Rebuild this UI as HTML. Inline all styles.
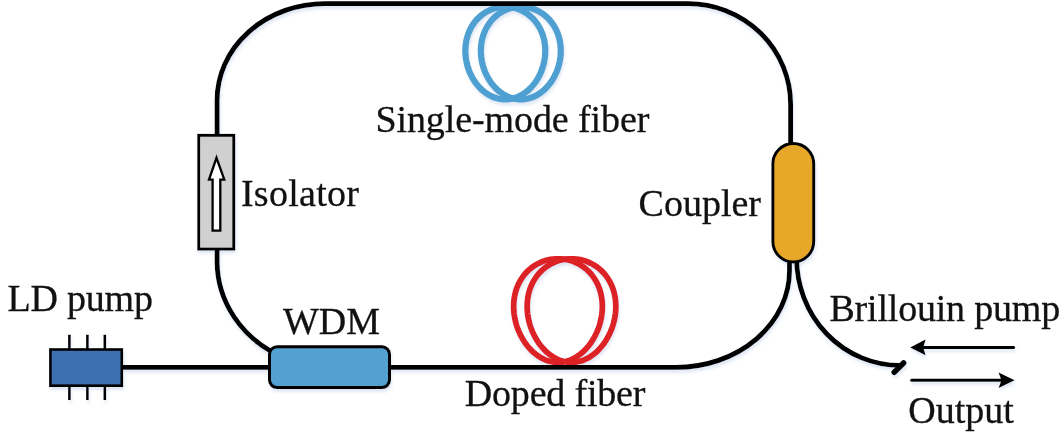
<!DOCTYPE html>
<html>
<head>
<meta charset="utf-8">
<style>
html,body{margin:0;padding:0;background:#fff;width:1061px;height:435px;overflow:hidden;}
svg{position:absolute;left:0;top:0;display:block;}
text{font-family:"Liberation Serif",serif;font-size:38px;fill:#111;stroke:#111;stroke-width:0.3px;}
</style>
</head>
<body>
<svg width="1061" height="435" viewBox="0 0 1061 435">
  <defs>
    <filter id="sh" x="-5%" y="-5%" width="110%" height="115%">
      <feGaussianBlur in="SourceAlpha" stdDeviation="1.6"/>
      <feOffset dx="0.8" dy="2.6" result="o"/>
      <feFlood flood-color="#9ab2da" flood-opacity="0.3"/>
      <feComposite in2="o" operator="in"/>
      <feMerge><feMergeNode/><feMergeNode in="SourceGraphic"/></feMerge>
    </filter>
  </defs>
  <g filter="url(#sh)">
  <!-- single-mode fiber coil -->
  <g fill="none" stroke="#50a0d2" stroke-width="6.2">
    <path d="M545.20,53.10 L545.08,55.12 L544.87,57.14 L544.60,59.14 L544.25,61.14 L543.83,63.12 L543.34,65.08 L542.78,67.02 L542.15,68.94 L541.46,70.82 L540.70,72.67 L539.87,74.48 L538.99,76.25 L538.05,77.98 L537.05,79.66 L535.99,81.29 L534.88,82.86 L533.72,84.38 L532.52,85.84 L531.26,87.24 L529.96,88.57 L528.63,89.83 L527.25,91.03 L525.83,92.15 L524.39,93.20 L522.91,94.17 L521.40,95.06 L519.86,95.88 L518.31,96.61 L516.73,97.26 L515.13,97.82 L513.51,98.30 L511.89,98.70 L510.25,99.00 L508.60,99.22 L506.95,99.36 L505.30,99.40 L503.65,99.36 L502.00,99.22 L500.35,99.00 L498.71,98.70 L497.09,98.30 L495.47,97.82 L493.87,97.26 L492.29,96.61 L490.74,95.88 L489.20,95.06 L487.69,94.17 L486.21,93.20 L484.77,92.15 L483.35,91.03 L481.97,89.83 L480.64,88.57 L479.34,87.24 L478.08,85.84 L476.88,84.38 L475.72,82.86 L474.61,81.29 L473.55,79.66 L472.55,77.98 L471.61,76.25 L470.73,74.48 L469.90,72.67 L469.14,70.82 L468.45,68.94 L467.82,67.02 L467.26,65.08 L466.77,63.12 L466.35,61.14 L466.00,59.14 L465.73,57.14 L465.52,55.12 L465.40,53.10 L465.35,51.08 L465.38,49.06 L465.48,47.06 L465.67,45.06 L465.92,43.08 L466.26,41.12 L466.67,39.18 L467.17,37.26 L467.73,35.38 L468.37,33.53 L469.09,31.72 L469.88,29.95 L470.74,28.22 L471.68,26.54 L472.68,24.91 L473.75,23.34 L474.89,21.82 L476.09,20.36 L477.35,18.96 L478.67,17.63 L480.05,16.37 L481.48,15.17 L482.96,14.05 L484.49,13.00 L486.06,12.03 L487.67,11.14 L489.33,10.32 L491.01,9.59 L492.73,8.94 L494.47,8.38 L496.24,7.90 L498.03,7.50 L499.83,7.20 L501.65,6.98 L503.47,6.84 L505.30,6.80 L507.13,6.84 L508.95,6.98 L510.77,7.20 L512.57,7.50 L514.36,7.90 L516.13,8.38 L517.87,8.94 L519.59,9.59 L521.27,10.32 L522.93,11.14 L524.54,12.03 L526.11,13.00 L527.64,14.05 L529.12,15.17 L530.55,16.37 L531.93,17.63 L533.25,18.96 L534.51,20.36 L535.71,21.82 L536.85,23.34 L537.92,24.91 L538.92,26.54 L539.86,28.22 L540.72,29.95 L541.51,31.72 L542.23,33.53 L542.87,35.38 L543.43,37.26 L543.93,39.18 L544.34,41.12 L544.68,43.08 L544.93,45.06 L545.12,47.06 L545.22,49.06 L545.25,51.08 Z"/>
    <path d="M560.70,53.10 L560.58,55.12 L560.37,57.14 L560.10,59.14 L559.75,61.14 L559.33,63.12 L558.84,65.08 L558.28,67.02 L557.65,68.94 L556.96,70.82 L556.20,72.67 L555.37,74.48 L554.49,76.25 L553.55,77.98 L552.55,79.66 L551.49,81.29 L550.38,82.86 L549.22,84.38 L548.02,85.84 L546.76,87.24 L545.46,88.57 L544.13,89.83 L542.75,91.03 L541.33,92.15 L539.89,93.20 L538.41,94.17 L536.90,95.06 L535.36,95.88 L533.81,96.61 L532.23,97.26 L530.63,97.82 L529.01,98.30 L527.39,98.70 L525.75,99.00 L524.10,99.22 L522.45,99.36 L520.80,99.40 L519.15,99.36 L517.50,99.22 L515.85,99.00 L514.21,98.70 L512.59,98.30 L510.97,97.82 L509.37,97.26 L507.79,96.61 L506.24,95.88 L504.70,95.06 L503.19,94.17 L501.71,93.20 L500.27,92.15 L498.85,91.03 L497.47,89.83 L496.14,88.57 L494.84,87.24 L493.58,85.84 L492.38,84.38 L491.22,82.86 L490.11,81.29 L489.05,79.66 L488.05,77.98 L487.11,76.25 L486.23,74.48 L485.40,72.67 L484.64,70.82 L483.95,68.94 L483.32,67.02 L482.76,65.08 L482.27,63.12 L481.85,61.14 L481.50,59.14 L481.23,57.14 L481.02,55.12 L480.90,53.10 L480.85,51.08 L480.88,49.06 L480.98,47.06 L481.17,45.06 L481.42,43.08 L481.76,41.12 L482.17,39.18 L482.67,37.26 L483.23,35.38 L483.87,33.53 L484.59,31.72 L485.38,29.95 L486.24,28.22 L487.18,26.54 L488.18,24.91 L489.25,23.34 L490.39,21.82 L491.59,20.36 L492.85,18.96 L494.17,17.63 L495.55,16.37 L496.98,15.17 L498.46,14.05 L499.99,13.00 L501.56,12.03 L503.17,11.14 L504.83,10.32 L506.51,9.59 L508.23,8.94 L509.97,8.38 L511.74,7.90 L513.53,7.50 L515.33,7.20 L517.15,6.98 L518.97,6.84 L520.80,6.80 L522.63,6.84 L524.45,6.98 L526.27,7.20 L528.07,7.50 L529.86,7.90 L531.63,8.38 L533.37,8.94 L535.09,9.59 L536.77,10.32 L538.43,11.14 L540.04,12.03 L541.61,13.00 L543.14,14.05 L544.62,15.17 L546.05,16.37 L547.43,17.63 L548.75,18.96 L550.01,20.36 L551.21,21.82 L552.35,23.34 L553.42,24.91 L554.42,26.54 L555.36,28.22 L556.22,29.95 L557.01,31.72 L557.73,33.53 L558.37,35.38 L558.93,37.26 L559.43,39.18 L559.84,41.12 L560.18,43.08 L560.43,45.06 L560.62,47.06 L560.72,49.06 L560.75,51.08 Z"/>
  </g>
  <!-- doped fiber coil -->
  <g fill="none" stroke="#dd2128" stroke-width="5.8">
    <path d="M602.20,310.60 L601.95,313.31 L601.59,316.01 L601.11,318.70 L600.52,321.37 L599.81,324.01 L599.00,326.61 L598.08,329.16 L597.06,331.67 L595.95,334.12 L594.75,336.50 L593.45,338.81 L592.08,341.05 L590.62,343.20 L589.09,345.26 L587.49,347.23 L585.82,349.09 L584.09,350.86 L582.30,352.51 L580.46,354.04 L578.57,355.46 L576.64,356.75 L574.66,357.92 L572.66,358.96 L570.62,359.86 L568.56,360.63 L566.47,361.27 L564.37,361.76 L562.25,362.12 L560.13,362.33 L558.00,362.40 L555.87,362.33 L553.75,362.12 L551.63,361.76 L549.53,361.27 L547.44,360.63 L545.38,359.86 L543.34,358.96 L541.34,357.92 L539.36,356.75 L537.43,355.46 L535.54,354.04 L533.70,352.51 L531.91,350.86 L530.18,349.09 L528.51,347.23 L526.91,345.26 L525.38,343.20 L523.92,341.05 L522.55,338.81 L521.25,336.50 L520.05,334.12 L518.94,331.67 L517.92,329.16 L517.00,326.61 L516.19,324.01 L515.48,321.37 L514.89,318.70 L514.41,316.01 L514.05,313.31 L513.80,310.60 L513.68,307.89 L513.67,305.19 L513.80,302.50 L514.05,299.83 L514.42,297.19 L514.92,294.59 L515.55,292.04 L516.31,289.53 L517.19,287.08 L518.19,284.70 L519.32,282.39 L520.56,280.15 L521.92,278.00 L523.39,275.94 L524.98,273.97 L526.67,272.11 L528.45,270.34 L530.34,268.69 L532.31,267.16 L534.37,265.74 L536.50,264.45 L538.71,263.28 L540.98,262.24 L543.30,261.34 L545.68,260.57 L548.09,259.93 L550.54,259.44 L553.01,259.08 L555.50,258.87 L558.00,258.80 L560.50,258.87 L562.99,259.08 L565.46,259.44 L567.91,259.93 L570.32,260.57 L572.70,261.34 L575.02,262.24 L577.29,263.28 L579.50,264.45 L581.63,265.74 L583.69,267.16 L585.66,268.69 L587.55,270.34 L589.33,272.11 L591.02,273.97 L592.61,275.94 L594.08,278.00 L595.44,280.15 L596.68,282.39 L597.81,284.70 L598.81,287.08 L599.69,289.53 L600.45,292.04 L601.08,294.59 L601.58,297.19 L601.95,299.83 L602.20,302.50 L602.33,305.19 L602.32,307.89 Z"/>
    <path d="M615.70,310.60 L615.45,313.31 L615.09,316.01 L614.61,318.70 L614.02,321.37 L613.31,324.01 L612.50,326.61 L611.58,329.16 L610.56,331.67 L609.45,334.12 L608.25,336.50 L606.95,338.81 L605.58,341.05 L604.12,343.20 L602.59,345.26 L600.99,347.23 L599.32,349.09 L597.59,350.86 L595.80,352.51 L593.96,354.04 L592.07,355.46 L590.14,356.75 L588.16,357.92 L586.16,358.96 L584.12,359.86 L582.06,360.63 L579.97,361.27 L577.87,361.76 L575.75,362.12 L573.63,362.33 L571.50,362.40 L569.37,362.33 L567.25,362.12 L565.13,361.76 L563.03,361.27 L560.94,360.63 L558.88,359.86 L556.84,358.96 L554.84,357.92 L552.86,356.75 L550.93,355.46 L549.04,354.04 L547.20,352.51 L545.41,350.86 L543.68,349.09 L542.01,347.23 L540.41,345.26 L538.88,343.20 L537.42,341.05 L536.05,338.81 L534.75,336.50 L533.55,334.12 L532.44,331.67 L531.42,329.16 L530.50,326.61 L529.69,324.01 L528.98,321.37 L528.39,318.70 L527.91,316.01 L527.55,313.31 L527.30,310.60 L527.18,307.89 L527.17,305.19 L527.30,302.50 L527.55,299.83 L527.92,297.19 L528.42,294.59 L529.05,292.04 L529.81,289.53 L530.69,287.08 L531.69,284.70 L532.82,282.39 L534.06,280.15 L535.42,278.00 L536.89,275.94 L538.48,273.97 L540.17,272.11 L541.95,270.34 L543.84,268.69 L545.81,267.16 L547.87,265.74 L550.00,264.45 L552.21,263.28 L554.48,262.24 L556.80,261.34 L559.18,260.57 L561.59,259.93 L564.04,259.44 L566.51,259.08 L569.00,258.87 L571.50,258.80 L574.00,258.87 L576.49,259.08 L578.96,259.44 L581.41,259.93 L583.82,260.57 L586.20,261.34 L588.52,262.24 L590.79,263.28 L593.00,264.45 L595.13,265.74 L597.19,267.16 L599.16,268.69 L601.05,270.34 L602.83,272.11 L604.52,273.97 L606.11,275.94 L607.58,278.00 L608.94,280.15 L610.18,282.39 L611.31,284.70 L612.31,287.08 L613.19,289.53 L613.95,292.04 L614.58,294.59 L615.08,297.19 L615.45,299.83 L615.70,302.50 L615.83,305.19 L615.82,307.89 Z"/>
  </g>
  <!-- loop fiber -->
  <g fill="none" stroke="#000" stroke-width="4.8" stroke-linecap="butt">
    <path d="M217.1,140 L217.1,100 A108,96.4 0 0 1 325.1,3.6 L688,3.6 A102.6,100.4 0 0 1 790.6,104 L790.6,150"/>
    <path d="M217.1,245 L217.1,261.8 A114.2,105.6 0 0 0 278.7,355.2"/>
    <path d="M120,367.4 L272,367.4"/>
    <path d="M385,367.4 L676.2,367.4 A113.3,96.7 0 0 0 789.5,270.7 L789.5,255"/>
    <path d="M796.6,255 L796.6,258.1 A103.2,107.3 0 0 0 899.8,365.4"/>
    <path d="M894.2,372.2 L903.6,362.9" stroke-width="5.6" stroke-linecap="round"/>
  </g>
  <!-- isolator -->
  <rect x="198.7" y="135.3" width="35.1" height="113.8" fill="#d0d0d0" stroke="#000" stroke-width="2.8"/>
  <path d="M216.5,157.8 L224.3,179.6 L220.3,179.6 L220.3,230.6 L212.6,230.6 L212.6,179.6 L209,179.6 Z" fill="#fff" stroke="#000" stroke-width="2.3" stroke-linejoin="miter"/>
  <!-- coupler -->
  <rect x="772.85" y="143.45" width="40.9" height="118.5" rx="20.45" ry="20.45" fill="#e7a82a" stroke="#000" stroke-width="2.9"/>
  <!-- WDM -->
  <rect x="269.5" y="346.8" width="120" height="40.8" rx="7.5" ry="7.5" fill="#52a1d1" stroke="#000" stroke-width="3"/>
  <!-- LD pump -->
  <g stroke="#000" stroke-width="2.6">
    <line x1="69.4" y1="334.8" x2="69.4" y2="400"/>
    <line x1="87.4" y1="334.8" x2="87.4" y2="400"/>
    <line x1="104.8" y1="334.8" x2="104.8" y2="400"/>
  </g>
  <rect x="50.4" y="349.5" width="71.4" height="36.2" fill="#3e6fb1" stroke="#000" stroke-width="2.6"/>
  <!-- arrows -->
  <g stroke="#000" stroke-width="3" fill="none">
    <line x1="920" y1="347.4" x2="1013.6" y2="347.4" stroke-linecap="round"/>
    <line x1="911.7" y1="380.3" x2="1005" y2="380.3" stroke-linecap="round"/>
  </g>
  <path d="M910.2,347.4 L925.6,339.5 L923.2,347.4 L925.6,355.3 Z" fill="#000"/>
  <path d="M1014.6,380.3 L998.6,372.5 L1001.4,380.3 L998.6,388.1 Z" fill="#000"/>
  </g>
  <!-- labels -->
  <g opacity="0.999">
  <text x="375.4" y="132" textLength="274" lengthAdjust="spacing">Single-mode fiber</text>
  <text x="240.9" y="205.5" textLength="118" lengthAdjust="spacing">Isolator</text>
  <text x="638.6" y="216.2">Coupler</text>
  <text x="7.6" y="311" textLength="145.3" lengthAdjust="spacing">LD pump</text>
  <text x="283" y="334">WDM</text>
  <text x="464.8" y="405.5" textLength="180.6" lengthAdjust="spacing">Doped fiber</text>
  <text x="829.4" y="321" textLength="230.8" lengthAdjust="spacing">Brillouin pump</text>
  <text x="908.2" y="423">Output</text>
  </g>
</svg>
</body>
</html>
